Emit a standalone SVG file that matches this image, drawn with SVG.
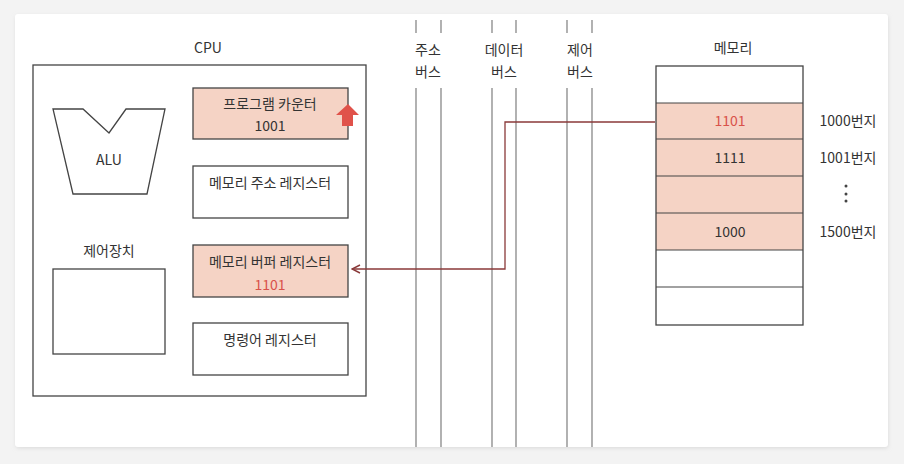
<svg xmlns="http://www.w3.org/2000/svg" width="904" height="464" viewBox="0 0 904 464">
<defs>
<filter id="sh" x="-5%" y="-5%" width="110%" height="110%"><feGaussianBlur stdDeviation="2"/></filter>
<marker id="arr" viewBox="0 0 10 10" refX="9" refY="5" markerWidth="10" markerHeight="10" orient="auto" markerUnits="userSpaceOnUse"><path d="M1,1 L9,5 L1,9" fill="none" stroke="#8a3a3a" stroke-width="1.5"/></marker>
</defs>
<style>
.box{fill:#fff;stroke:#444;stroke-width:1.3}
.reg{fill:#f5d3c5;stroke:#444;stroke-width:1.3}
.t{font-family:"Noto Sans CJK KR","Noto Sans",sans-serif;font-size:14px;fill:#333;text-anchor:middle}
.red{fill:#d9524a}
.bus{stroke:#888;stroke-width:1.3}
.row{stroke:#444;stroke-width:1.2}
</style>
<rect width="904" height="464" fill="#f3f3f3"/>
<rect x="16" y="16" width="872" height="432" rx="3" fill="#d8d8d8" filter="url(#sh)"/>
<rect x="15" y="14" width="873" height="433" rx="3" fill="#fff"/>

<g id="cpu">
<text class="t" x="208" y="53">CPU</text>
<rect class="box" x="33" y="65" width="333" height="331"/>
</g>
<g id="alu">
<path class="box" d="M53,109 L83,109 L109,133 L126,109 L165,109 L147,194 L73,194 Z"/>
<text class="t" x="109" y="165">ALU</text>
</g>
<g id="pc">
<rect class="reg" x="193" y="88" width="155" height="51"/>
<text class="t" x="270" y="109">프로그램 카운터</text>
<text class="t" x="270" y="131">1001</text>
<path d="M348,104 L359,115 L353,115 L353,126 L342,126 L342,115 L336,115 Z" fill="#e0524a"/>
</g>
<g id="mar">
<rect class="box" x="193" y="166" width="155" height="52"/>
<text class="t" x="270" y="188">메모리 주소 레지스터</text>
</g>
<g id="cu">
<text class="t" x="109" y="256">제어장치</text>
<rect class="box" x="53" y="269" width="112" height="85"/>
</g>
<g id="mbr">
<rect class="reg" x="193" y="245" width="155" height="52"/>
<text class="t" x="270" y="267">메모리 버퍼 레지스터</text>
<text class="t red" x="270" y="290">1101</text>
</g>
<g id="ir">
<rect class="box" x="193" y="323" width="155" height="52"/>
<text class="t" x="270" y="345">명령어 레지스터</text>
</g>

<g id="address-bus">
<line class="bus" x1="416" y1="20" x2="416" y2="33"/><line class="bus" x1="441" y1="20" x2="441" y2="33"/>
<text class="t" x="428" y="55">주소</text><text class="t" x="428" y="77">버스</text>
<line class="bus" x1="416" y1="88" x2="416" y2="447"/><line class="bus" x1="441" y1="88" x2="441" y2="447"/>
</g>
<g id="data-bus">
<line class="bus" x1="492" y1="20" x2="492" y2="33"/><line class="bus" x1="516" y1="20" x2="516" y2="33"/>
<text class="t" x="504" y="55">데이터</text><text class="t" x="504" y="77">버스</text>
<line class="bus" x1="492" y1="88" x2="492" y2="447"/><line class="bus" x1="516" y1="88" x2="516" y2="447"/>
</g>
<g id="control-bus">
<line class="bus" x1="567" y1="20" x2="567" y2="33"/><line class="bus" x1="592" y1="20" x2="592" y2="33"/>
<text class="t" x="580" y="55">제어</text><text class="t" x="580" y="77">버스</text>
<line class="bus" x1="567" y1="88" x2="567" y2="447"/><line class="bus" x1="592" y1="88" x2="592" y2="447"/>
</g>

<g id="memory">
<text class="t" x="733" y="53">메모리</text>
<rect x="656" y="103" width="147" height="147" fill="#f5d3c5"/>
<rect x="656" y="66" width="147" height="259" fill="none" stroke="#444" stroke-width="1.3"/>
<line class="row" x1="656" y1="103" x2="803" y2="103"/>
<line class="row" x1="656" y1="139" x2="803" y2="139"/>
<line class="row" x1="656" y1="176" x2="803" y2="176"/>
<line class="row" x1="656" y1="213" x2="803" y2="213"/>
<line class="row" x1="656" y1="250" x2="803" y2="250"/>
<line class="row" x1="656" y1="287" x2="803" y2="287"/>
<text class="t red" x="730" y="126">1101</text>
<text class="t" x="730" y="163">1111</text>
<text class="t" x="730" y="237">1000</text>
<text class="t" x="848" y="126">1000번지</text>
<text class="t" x="848" y="163">1001번지</text>
<circle cx="846" cy="186" r="1.5" fill="#444"/>
<circle cx="846" cy="194" r="1.5" fill="#444"/>
<circle cx="846" cy="201" r="1.5" fill="#444"/>
<text class="t" x="848" y="237">1500번지</text>
</g>

<g id="connectors">
<path d="M655,122 L505,122 L505,269 L352,269" fill="none" stroke="#8a3a3a" stroke-width="1.3" marker-end="url(#arr)"/>
</g>
</svg>
